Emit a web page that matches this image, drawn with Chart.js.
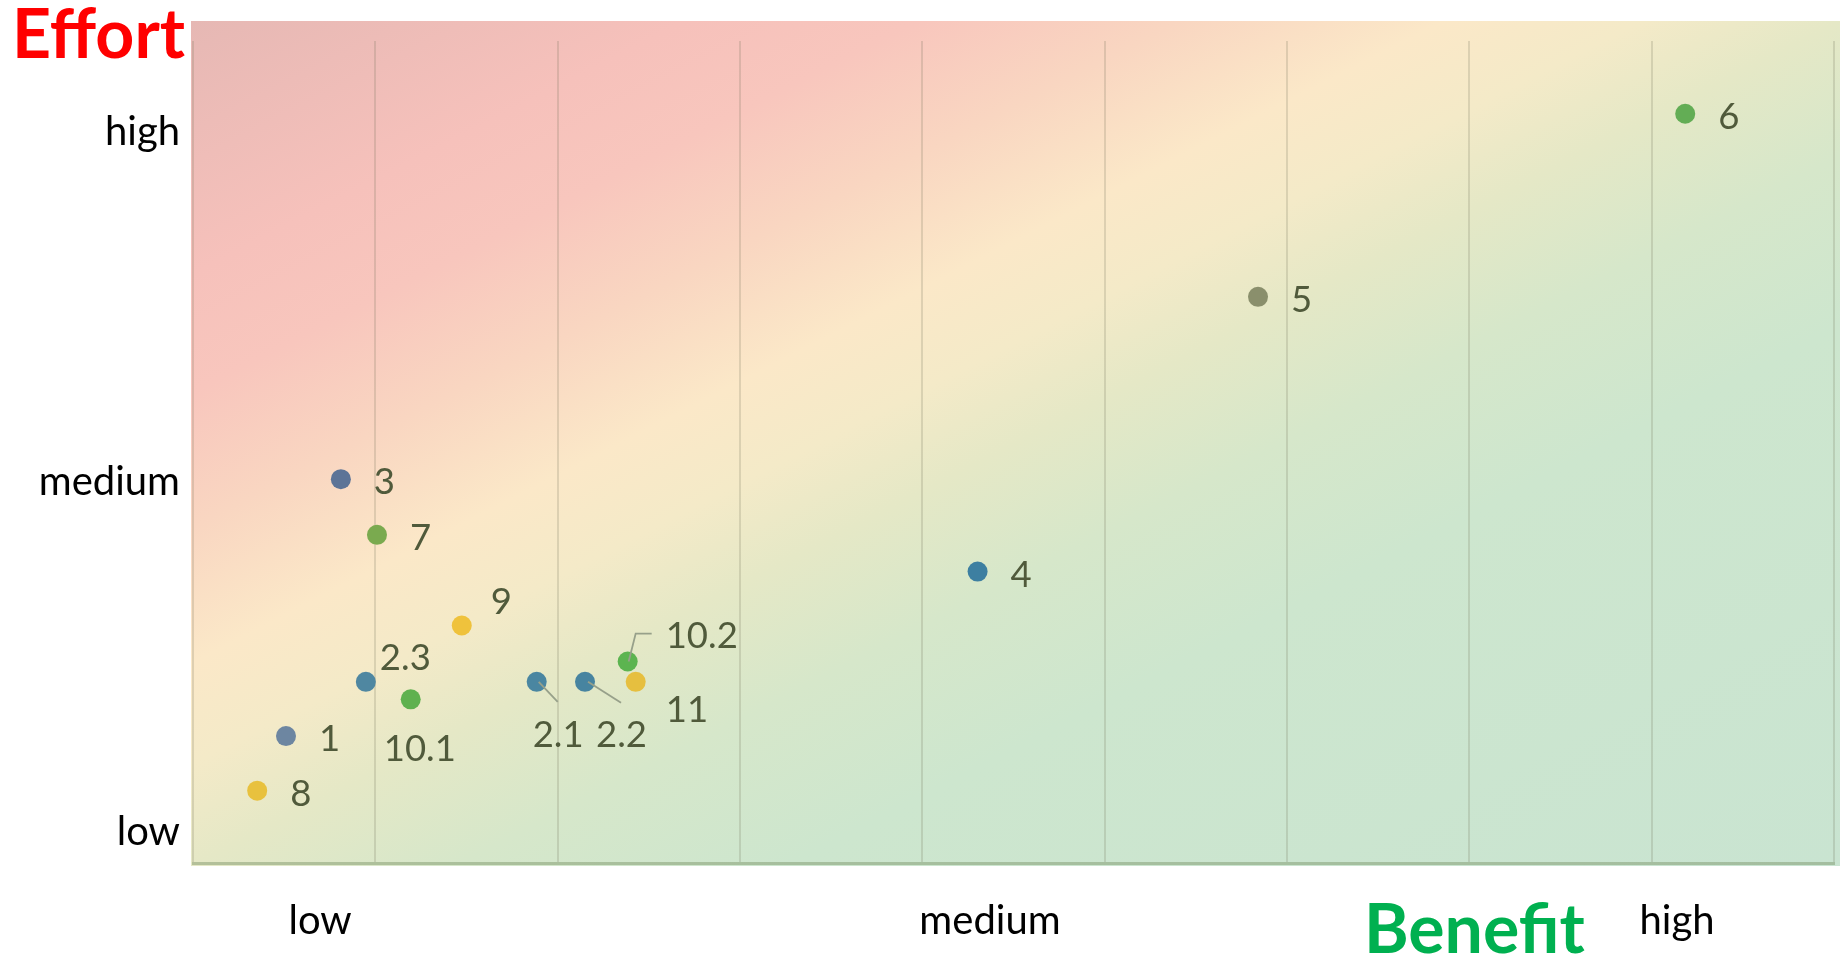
<!DOCTYPE html>
<html>
<head>
<meta charset="utf-8">
<script src="https://cdn.jsdelivr.net/npm/chart.js@4"></script>
<style>
  html, body { margin: 0; padding: 0; background: #ffffff; }
  #wrap { width: 1840px; height: 960px; position: relative; }
</style>
</head>
<body>
<div id="wrap"><canvas id="c" width="1840" height="960"></canvas></div>
<script>
// ---- data ----
const ids     = ['1', '2.1', '2.2', '2.3', '3', '4', '5', '6', '7', '8', '9', '10.1', '10.2', '11'];
const benefit = [0.51, 1.885, 2.15, 0.948, 0.811, 4.303, 5.841, 8.184, 1.009, 0.352, 1.474, 1.194, 2.384, 2.428];
const effort  = [1.274, 1.429, 1.429, 1.429, 2.008, 1.744, 2.529, 3.052, 1.849, 1.118, 1.590, 1.379, 1.487, 1.429];
const xTickLabels = ['low', 'medium', 'high'];
const xTickValues = [0.697, 4.371, 8.139];
const yTickLabels = ['low', 'medium', 'high'];
const yTickValues = [1, 2, 3];

// ---- styles ----
const pointColors = ['#6d86a1', '#4a86a1', '#4784a0', '#4f87a1', '#5d7497', '#3d7fa1', '#8a8f6c',
                     '#63ad55', '#7aaa4f', '#e8c13e', '#efc23c', '#5fb14f', '#5cb450', '#e6bf3f'];
const labelPlacement = {
  '2.1':  { dx: -4, dy: 52, leader: [[2, 0], [21, 20]] },
  '2.2':  { dx: 11, dy: 52, leader: [[3, 0], [36, 21]] },
  '2.3':  { dx: 14, dy: -25 },
  '9':    { dx: 29, dy: -24 },
  '10.1': { dx: -27, dy: 49 },
  '10.2': { dx: 38, dy: -27, leader: [[1, 0], [8, -28], [24, -28]] },
  '11':   { dx: 30, dy: 27 }
};
const defaultPlacement = { dx: 33, dy: 2 };

const points = benefit.map((x, i) => ({ x: x, y: effort[i] }));

const bgPlugin = {
  id: 'bg',
  beforeDraw(chart) {
    const ctx = chart.ctx, a = chart.chartArea;
    const x0 = a.left - 2, y0 = a.top - 20, x1 = 1840, y1 = a.bottom + 3;
    ctx.save();
    ctx.translate(x0, y0);
    ctx.scale(x1 - x0, y1 - y0);
    const g = ctx.createLinearGradient(0, 0, 1, 1);
    g.addColorStop(0.00, '#e6b8b4');
    g.addColorStop(0.15, '#f6c1bb');
    g.addColorStop(0.22, '#f8c6bd');
    g.addColorStop(0.30, '#f9d6c1');
    g.addColorStop(0.38, '#fbe8c8');
    g.addColorStop(0.44, '#f4eac8');
    g.addColorStop(0.50, '#e5e8c6');
    g.addColorStop(0.58, '#d6e7ca');
    g.addColorStop(0.68, '#cde6ce');
    g.addColorStop(1.00, '#c9e4d1');
    ctx.fillStyle = g;
    ctx.fillRect(0, 0, 1, 1);
    ctx.restore();
  }
};

const labelPlugin = {
  id: 'pointLabels',
  afterDatasetsDraw(chart) {
    const ctx = chart.ctx;
    const meta = chart.getDatasetMeta(0);
    ctx.save();
    ctx.font = '36.5px Lato';
    ctx.textBaseline = 'alphabetic';
    ctx.textAlign = 'left';
    meta.data.forEach((el, i) => {
      const id = ids[i];
      const p = labelPlacement[id] || defaultPlacement;
      if (p.leader) {
        ctx.strokeStyle = '#97a08a';
        ctx.lineWidth = 1.8;
        ctx.beginPath();
        p.leader.forEach((q, k) => {
          if (k === 0) ctx.moveTo(el.x + q[0], el.y + q[1]);
          else ctx.lineTo(el.x + q[0], el.y + q[1]);
        });
        ctx.stroke();
      }
      ctx.fillStyle = '#505a3b';
      ctx.fillText(id, el.x + p.dx, el.y + p.dy + 13);
    });
    ctx.restore();
  },
  afterDraw(chart) {
    const ctx = chart.ctx;
    ctx.save();
    ctx.textBaseline = 'alphabetic';
    ctx.textAlign = 'left';
    ctx.font = 'bold 68px Lato';
    ctx.fillStyle = '#ff0000';
    ctx.fillText('Effort', 12, 58);
    ctx.fillStyle = '#00b050';
    ctx.fillText('Benefit', 1364, 953);
    ctx.restore();
  }
};

function build() {
  new Chart(document.getElementById('c'), {
    type: 'scatter',
    data: {
      datasets: [{
        data: points,
        backgroundColor: pointColors,
        borderWidth: 0,
        pointRadius: 10,
        pointHoverRadius: 10
      }]
    },
    options: {
      responsive: false,
      animation: false,
      devicePixelRatio: 1,
      layout: { autoPadding: false, padding: { top: 41, right: 6, left: 0, bottom: 0 } },
      plugins: { legend: { display: false }, tooltip: { enabled: false } },
      scales: {
        x: {
          type: 'linear', position: 'bottom', min: 0, max: 9,
          ticks: { display: false, stepSize: 1 },
          grid: { color: 'rgba(110,110,85,0.2)', lineWidth: 2, drawTicks: false },
          border: { display: true, color: 'rgba(120,145,100,0.45)', width: 3 },
          afterFit(s) { s.height = 0; }
        },
        xl: {
          type: 'linear', position: 'bottom', min: 0, max: 9,
          afterBuildTicks(s) { s.ticks = xTickValues.map(v => ({ value: v })); },
          ticks: {
            autoSkip: false, maxRotation: 0, padding: 34,
            font: { family: 'Lato', size: 40 }, color: '#000000',
            callback(v) { const k = xTickValues.indexOf(v); return k >= 0 ? xTickLabels[k] : ''; }
          },
          grid: { display: false, drawTicks: false },
          border: { display: false },
          afterFit(s) { s.height = 97; }
        },
        y: {
          type: 'linear', position: 'left', min: 0.9114, max: 3.26,
          afterBuildTicks(s) { s.ticks = yTickValues.map(v => ({ value: v })); },
          ticks: {
            autoSkip: false, padding: 13,
            font: { family: 'Lato', size: 40 }, color: '#000000',
            callback(v) { const k = yTickValues.indexOf(v); return k >= 0 ? yTickLabels[k] : ''; }
          },
          grid: { display: false, drawTicks: false },
          border: { display: false },
          afterFit(s) { s.width = 193; }
        }
      }
    },
    plugins: [bgPlugin, labelPlugin]
  });
}

if (document.fonts && document.fonts.load) {
  Promise.all([
    document.fonts.load('36.5px Lato'),
    document.fonts.load('40px Lato'),
    document.fonts.load('bold 68px Lato')
  ]).then(build, build);
} else {
  build();
}
</script>
</body>
</html>
